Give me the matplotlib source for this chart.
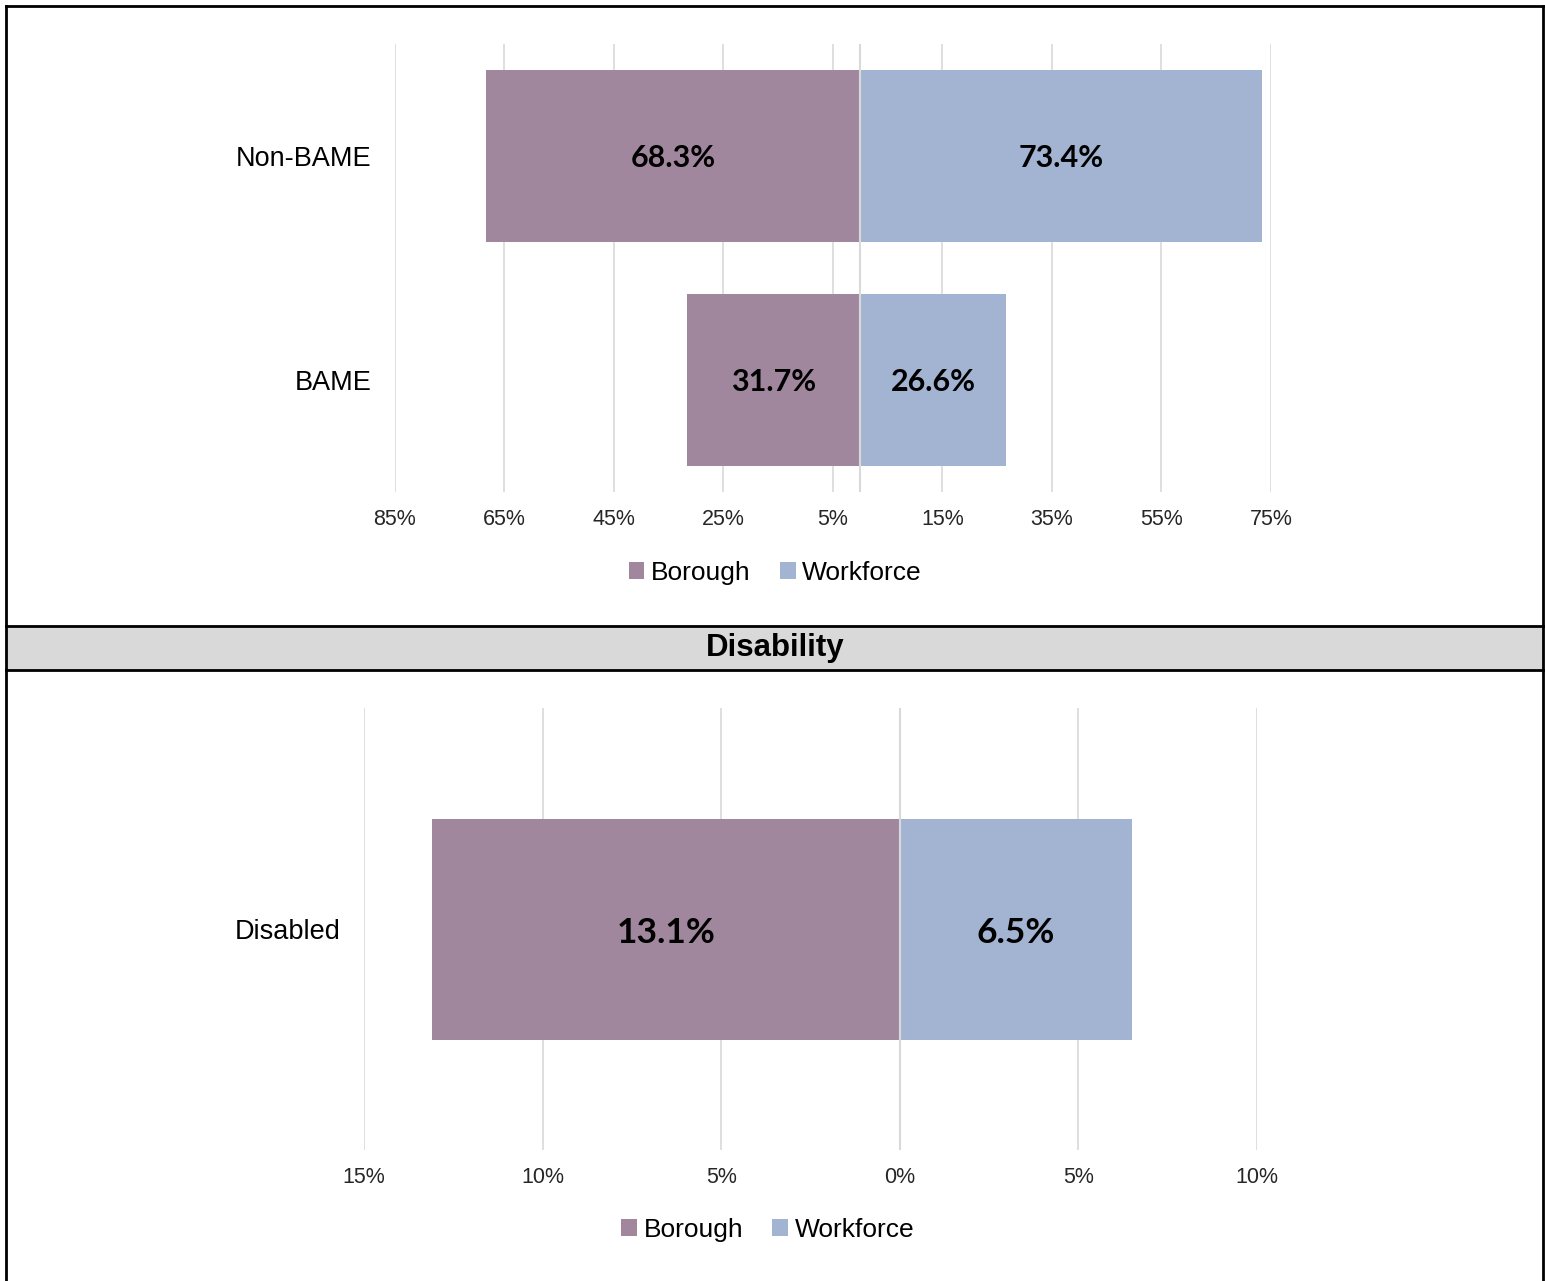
import matplotlib.pyplot as plt
from matplotlib.patches import Rectangle
from matplotlib.lines import Line2D
from matplotlib.ticker import FixedLocator, FuncFormatter

# ethnicity chart data
eth_cats = ["BAME", "Non-BAME"]
eth_borough = [31.7, 68.3]
eth_workforce = [26.6, 73.4]
eth_ticks = [-85, -65, -45, -25, -5, 15, 35, 55, 75]

# disability chart data
dis_cats = ["Disabled"]
dis_borough = [13.1]
dis_workforce = [6.5]
dis_ticks = [-15, -10, -5, 0, 5, 10]

c_bor = "#A0879E"
c_wf = "#A2B4D2"
grid_c = "#D9D9D9"

plt.rcParams['font.family'] = ['Liberation Sans', 'DejaVu Sans']

W, H = 1545, 1281
fig = plt.figure(figsize=(W / 100, H / 100), dpi=100)


def fx(px):
    return px / W


def fy(py):
    return 1 - py / H


def pyramid(ax, cats, bor, wf, ticks, xlim, bh, lab_size, leg_y):
    y = list(range(len(cats)))
    hb = ax.barh(y, [-v for v in bor], height=bh, color=c_bor, zorder=2, label="Borough")
    hw = ax.barh(y, wf, height=bh, color=c_wf, zorder=2, label="Workforce")
    for i in y:
        ax.text(-bor[i] / 2, i - 0.01, f"{bor[i]:.1f}%", ha="center", va="center",
                fontsize=lab_size, fontweight="bold", family="Lato", zorder=3)
        ax.text(wf[i] / 2, i - 0.01, f"{wf[i]:.1f}%", ha="center", va="center",
                fontsize=lab_size, fontweight="bold", family="Lato", zorder=3)
    ax.set_xlim(*xlim)
    ax.set_ylim(-0.5, len(cats) - 0.5)
    ax.xaxis.set_major_locator(FixedLocator(ticks))
    ax.xaxis.set_major_formatter(FuncFormatter(lambda v, p: f"{abs(v):.0f}%"))
    ax.grid(axis="x", color=grid_c, linewidth=1.2, zorder=0)
    ax.axvline(0, color=grid_c, linewidth=1.5, zorder=2.5)
    ax.set_yticks(y)
    ax.set_yticklabels(cats, fontsize=19.5)
    ax.tick_params(axis="y", length=0, pad=17)
    ax.tick_params(axis="x", length=0, labelsize=15.5, pad=12, labelcolor="#262626")
    for s in ax.spines.values():
        s.set_visible(False)
    ax.legend(handles=[hb, hw], loc="center",
              bbox_to_anchor=(0.5, leg_y), ncol=2, frameon=False,
              fontsize=19, handlelength=0.6, handleheight=0.6,
              handletextpad=0.25, columnspacing=1.1)


# top: ethnicity
ax1 = fig.add_axes([fx(395), fy(492), fx(1271) - fx(395), fy(44) - fy(492)])
pyramid(ax1, eth_cats, eth_borough, eth_workforce, eth_ticks, (-85, 75), 0.77, 22,
        -(573 - 492) / 448)
ax1.get_legend().set_bbox_to_anchor((0.434, -(573 - 492) / 448))

# bottom: disability
ax2 = fig.add_axes([fx(364), fy(1150), fx(1257) - fx(364), fy(708) - fy(1150)])
pyramid(ax2, dis_cats, dis_borough, dis_workforce, dis_ticks, (-15, 10), 0.5, 25.5,
        -(1230 - 1150) / 442)
ax2.get_legend().set_bbox_to_anchor((0.452, -(1230 - 1150) / 442))

# frame and section header
fig.add_artist(Rectangle((fx(6), fy(670)), fx(1543) - fx(6), fy(626) - fy(670),
                         facecolor="#D9D9D9", edgecolor="none", zorder=0))
for yy in [626, 670]:
    fig.add_artist(Line2D([fx(6), fx(1543)], [fy(yy), fy(yy)], color="black", lw=2))
fig.add_artist(Line2D([fx(6), fx(1543)], [fy(6), fy(6)], color="black", lw=2))
fig.add_artist(Line2D([fx(6), fx(6)], [fy(6), 0], color="black", lw=2))
fig.add_artist(Line2D([fx(1543), fx(1543)], [fy(6), 0], color="black", lw=2))
fig.text(fx(775), fy(648), "Disability", ha="center", va="center",
         fontsize=22.5, fontweight="bold")

fig.savefig("out.png", dpi=100)
